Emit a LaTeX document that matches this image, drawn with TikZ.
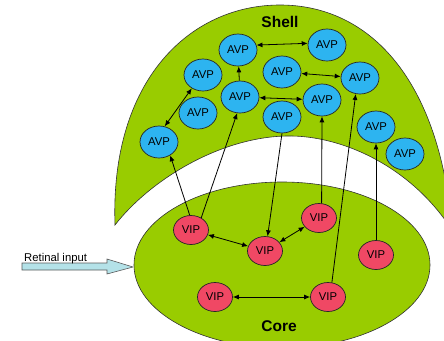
\documentclass[tikz,border=0pt]{standalone}
\usepackage{fontspec}
\setmainfont{Liberation Sans}
\usetikzlibrary{shapes.geometric,arrows.meta}
\definecolor{leaf}{RGB}{153,204,0}
\definecolor{avpblue}{RGB}{45,180,240}
\definecolor{vipred}{RGB}{240,72,100}
\definecolor{inputfill}{RGB}{180,226,232}
\tikzset{
  avp/.style={ellipse,draw=black!85,line width=0.7pt,fill=avpblue,
    minimum width=38pt,minimum height=32pt,inner sep=0pt,
    font=\fontsize{11.3}{13}\selectfont},
  vip/.style={ellipse,draw=black!85,line width=0.7pt,fill=vipred,
    minimum width=35pt,minimum height=29pt,inner sep=0pt,
    font=\fontsize{11.3}{13}\selectfont},
  link/.style={draw=black,line width=0.8pt,-{Latex[length=6pt,width=5pt]}},
  both/.style={draw=black,line width=0.8pt,{Latex[length=6pt,width=5pt]}-{Latex[length=6pt,width=5pt]}},
  region/.style={fill=leaf,draw=black!80,line width=0.6pt},
  title/.style={font=\bfseries\fontsize{15.5}{18}\selectfont}
}
\begin{document}
\begin{tikzpicture}[x=1pt,y=-1pt]
\useasboundingbox (0,0) rectangle (444,340);
\clip (0,0) rectangle (444,340);

% shell crescent
\path[region] (115,225) .. controls (110,80) and (190,5) .. (280,5)
  .. controls (370,5) and (440,80) .. (452,230)
  .. controls (410,165) and (340,135) .. (287,136)
  .. controls (220,137) and (150,180) .. (115,225) -- cycle;

% core
\path[region] (282,265) ellipse [x radius=148pt, y radius=83pt];

% retinal input arrow
\path[fill=inputfill,draw=black!65,line width=0.6pt]
  (22,263) -- (107,263) -- (107,259) -- (133,267) -- (107,274) -- (107,270) -- (22,270) -- cycle;
\node[anchor=base west,inner sep=0pt,font=\fontsize{11.3}{13}\selectfont] (retina) at (24,261.5) {Retinal input};

\node[title] (shell) at (280,22) {Shell};
\node[title] (core) at (279,326) {Core};

% AVP cells of the shell
\node[avp] (a1) at (238,50) {AVP};
\node[avp] (a2) at (327,45) {AVP};
\node[avp] (a3) at (203,75) {AVP};
\node[avp] (a4) at (282,72) {AVP};
\node[avp] (a5) at (360,78) {AVP};
\node[avp] (a6) at (240,97) {AVP};
\node[avp] (a7) at (322,100) {AVP};
\node[avp] (a8) at (198,113) {AVP};
\node[avp] (a9) at (282,117) {AVP};
\node[avp] (a10) at (159,142) {AVP};
\node[avp] (a11) at (376,127) {AVP};
\node[avp] (a12) at (405,154) {AVP};

% VIP cells of the core
\node[vip] (v1) at (191,230) {VIP};
\node[vip] (v2) at (265,251) {VIP};
\node[vip] (v3) at (319,218) {VIP};
\node[vip] (v4) at (376,255) {VIP};
\node[vip] (v5) at (215,297) {VIP};
\node[vip] (v6) at (328,297) {VIP};

% shell connections
\draw[both] (a1.15) -- (a2.175);
\draw[both] (a4) -- (a5);
\draw[both] (a6) -- (a7);
\draw[link] (a6) -- (a1);
\draw[both] (a3.-130) -- (a10.70);

% core connections
\draw[both] (v1) -- (v2);
\draw[both] (v2) -- (v3);
\draw[both] (v5) -- (v6);

% projections between core and shell
\draw[link] (v1.95) -- (a10.-50);
\draw[link] (v1.50) -- (a6.-100);
\draw[link] (a9.south) -- (v2.80);
\draw[link] (v3.80) -- (a7.south);
\draw[link] (v6.75) -- (a5.-105);
\draw[link] (v4.north) -- (a11.south);
\end{tikzpicture}
\end{document}
